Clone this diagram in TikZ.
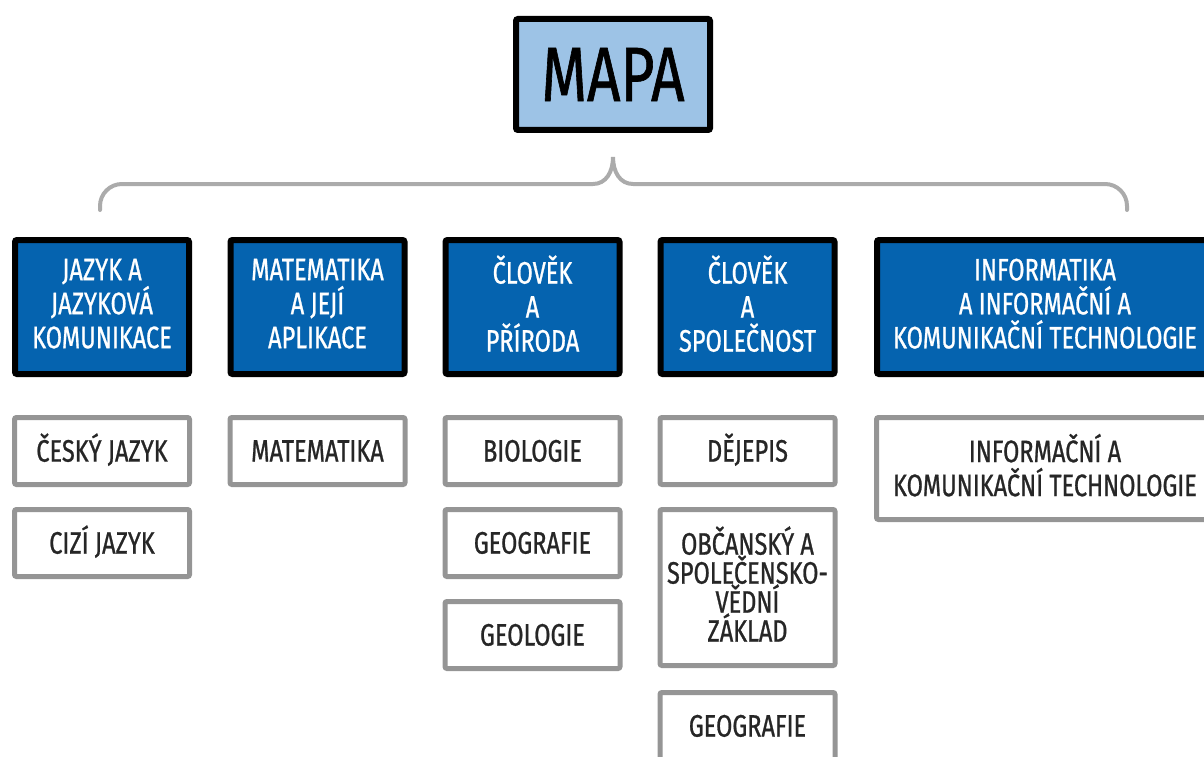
\documentclass[tikz,border=0pt]{standalone}
\usepackage{fontspec}
\setmainfont{Fira Sans}[FakeStretch=0.76,FakeBold=0.8]
\usepackage{xcolor}
\usetikzlibrary{positioning}

\definecolor{mapfill}{HTML}{9DC3E6}
\definecolor{areafill}{HTML}{0563AF}
\definecolor{subedge}{HTML}{959595}
\definecolor{bracegray}{HTML}{ABABAB}

\begin{document}
\begin{tikzpicture}[
    x=1pt, y=-1pt,
    node distance=25pt,
    root/.style={rectangle, draw=black, line width=6pt, fill=mapfill, minimum width=194pt, minimum height=111pt, rounded corners=2pt, inner sep=0pt, outer sep=0pt, font=\fontsize{77}{77}\selectfont},
    area/.style={rectangle, draw=black, line width=6pt, fill=areafill, text=white, minimum width=174pt, minimum height=134pt, rounded corners=2pt, inner sep=0pt, outer sep=0pt, align=center, font=\fontsize{31}{34}\selectfont,
        execute at begin node={\vphantom{Ě}}, execute at end node={\rule[-7pt]{0pt}{7pt}}},
    subject/.style={rectangle, draw=subedge, line width=5pt, fill=white, text=black!85, minimum width=175pt, minimum height=67pt, rounded corners=2pt, inner sep=0pt, outer sep=0pt, align=center, font=\fontsize{31}{29}\selectfont,
        execute at begin node={\vphantom{Ě}}, execute at end node={\rule[-7pt]{0pt}{7pt}}},
    brace/.style={draw=bracegray, line width=4pt, line cap=round, rounded corners=22pt}
]

\useasboundingbox (0,0) rectangle (1204,757);
\clip (0,0) rectangle (1204,757);

\node [root] (mapa) at (613,74.5) {MAPA};

% brace under the root
\coordinate [below=27pt of mapa] (tip);
\coordinate (bl) at (100,210);
\coordinate (br) at (1127,210);
\draw [brace] (bl) |- (593,184);
\draw [brace, rounded corners=0pt] (593,184) .. controls (606,184) and (613,172) .. (tip) .. controls (613,172) and (620,184) .. (633,184);
\draw [brace] (633,184) -| (br);

% areas
\node [area] (jazyk) at (102,307) {JAZYK A\\JAZYKOVÁ\\KOMUNIKACE};
\node [area] (matem) at (317.5,307) {MATEMATIKA\\A JEJÍ\\APLIKACE};
\node [area] (priroda) at (532.5,307) {ČLOVĚK\\A\\PŘÍRODA};
\node [area] (spolecnost) at (747.5,307) {ČLOVĚK\\A\\SPOLEČNOST};
\node [area, minimum width=336pt] (ict) at (1045,307) {INFORMATIKA\\A INFORMAČNÍ A\\KOMUNIKAČNÍ TECHNOLOGIE};

% subjects
\node [subject] (cesky) at (102,451) {ČESKÝ JAZYK};
\node [subject, below=of cesky] (cizi) {CIZÍ JAZYK};

\node [subject] (matematika) at (317.5,451) {MATEMATIKA};

\node [subject] (biologie) at (532.5,451) {BIOLOGIE};
\node [subject, below=of biologie] (geografie) {GEOGRAFIE};
\node [subject, below=of geografie] (geologie) {GEOLOGIE};

\node [subject] (dejepis) at (747.5,451) {DĚJEPIS};
\node [subject, below=of dejepis, minimum height=156pt] (obcansky) {OBČANSKÝ A\\SPOLEČENSKO-\\VĚDNÍ\\ZÁKLAD};
\node [subject, below=27pt of obcansky] (geografie2) {GEOGRAFIE};

\node [subject, minimum width=337pt, minimum height=102pt, font=\fontsize{31}{34}\selectfont] (ikt) at (1045,468.5) {INFORMAČNÍ A\\KOMUNIKAČNÍ TECHNOLOGIE};

\end{tikzpicture}
\end{document}
